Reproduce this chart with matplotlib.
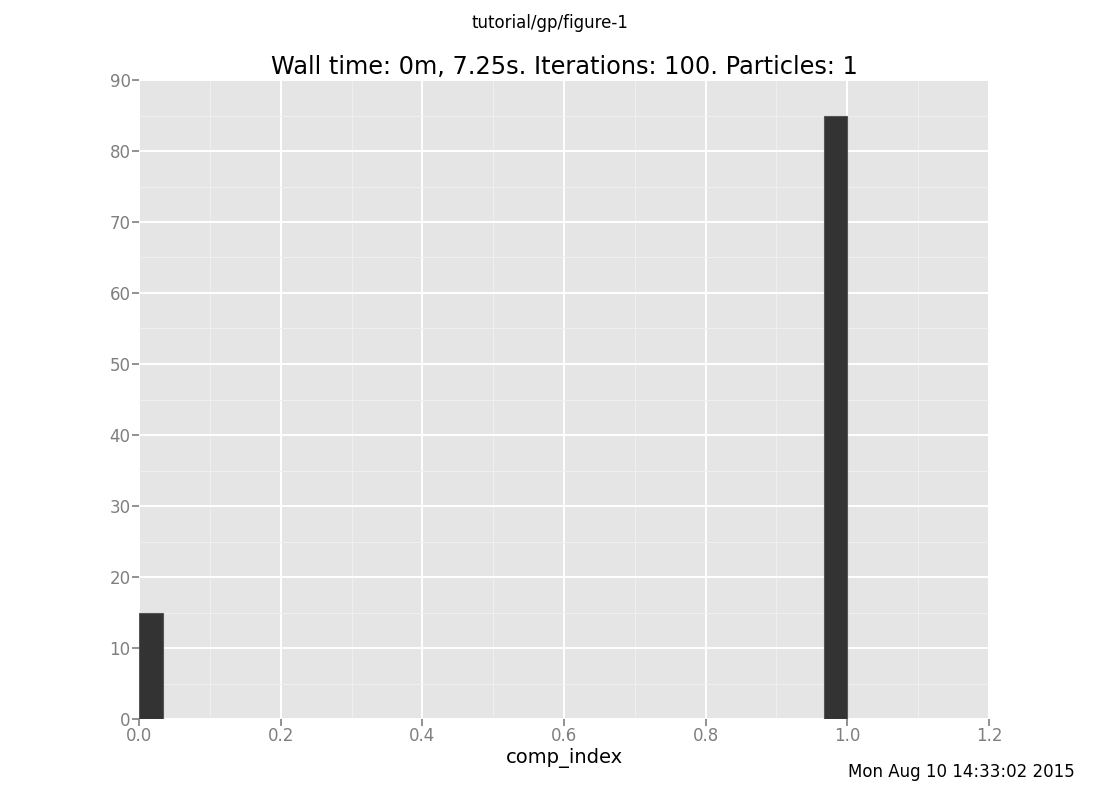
import matplotlib
matplotlib.use("Agg")
import matplotlib.pyplot as plt
import numpy as np

# data
bin_lefts = [0.0, 29/30]
bin_width = 1/30
counts = [15, 85]
xticks = [0.0, 0.2, 0.4, 0.6, 0.8, 1.0, 1.2]
yticks = [0, 10, 20, 30, 40, 50, 60, 70, 80, 90]

fig = plt.figure(figsize=(11, 8), dpi=100)
ax = fig.add_subplot(111)
fig.subplots_adjust(left=0.1264, right=0.899, bottom=0.10125, top=0.9)

ax.set_facecolor("#E5E5E5")
ax.bar(bin_lefts, counts, width=bin_width, align="edge", color="#333333",
       edgecolor="#555555", linewidth=0.8, zorder=3)

ax.set_xlim(0, 1.2)
ax.set_ylim(0, 90)
ax.set_xticks(xticks)
ax.set_xticklabels([f"{t:.1f}" for t in xticks])
ax.set_yticks(yticks)
ax.set_xticks(np.arange(0.1, 1.2, 0.2), minor=True)
ax.set_yticks(np.arange(5, 90, 10), minor=True)
ax.grid(which="major", color="white", linewidth=1.4, zorder=0)
ax.grid(which="minor", color="#F0F0F0", linewidth=0.7, zorder=0)
ax.set_axisbelow(True)
for s in ax.spines.values():
    s.set_visible(False)
ax.tick_params(which="major", direction="out", length=5, width=1.2, pad=1,
               color="#7F7F7F", labelcolor="#7F7F7F", labelsize=12)
ax.tick_params(which="minor", length=0)

ax.set_xlabel("comp_index", fontsize=14, labelpad=2)
ax.set_title("Wall time: 0m, 7.25s. Iterations: 100. Particles: 1", fontsize=17.3, pad=4)
fig.suptitle("tutorial/gp/figure-1", fontsize=12, y=0.983)
fig.text(0.977, 0.035, "Mon Aug 10 14:33:02 2015", ha="right", va="center", fontsize=12)

fig.savefig("out.png", dpi=100)
